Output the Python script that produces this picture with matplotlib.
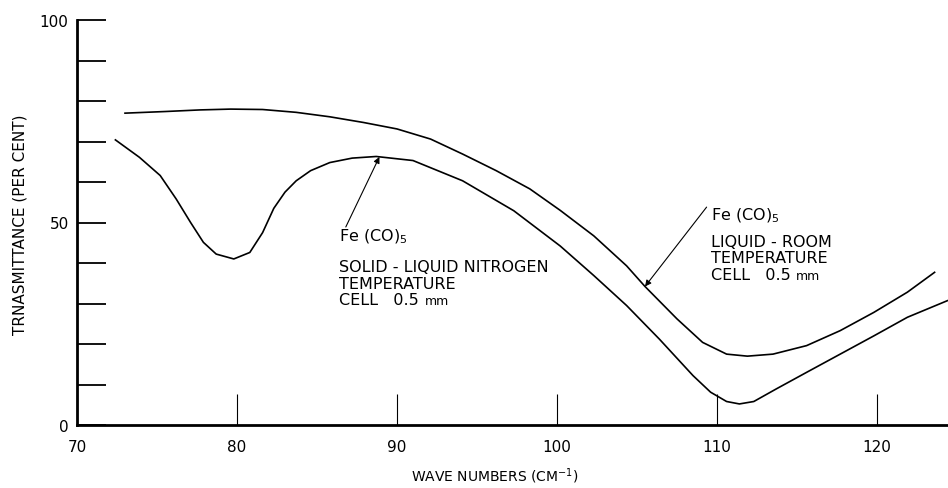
import numpy as np
import matplotlib
matplotlib.use('Agg')
import matplotlib.pyplot as plt

#### data ####

# Fe(CO)5 solid - liquid nitrogen temperature (lower curve)
wn_solid = [72.4, 73.9, 75.2, 76.2, 77.1, 77.9, 78.7, 79.8, 80.8, 81.6, 82.3, 83.0,
            83.7, 84.6, 85.8, 87.2, 88.7, 91.0, 94.1, 97.3, 100.2, 102.3, 104.35,
            106.4, 108.5, 109.6, 110.6, 111.4, 112.3, 113.7, 115.6, 117.7, 119.8,
            121.9, 124.4]
tr_solid = [70.4, 66.1, 61.6, 55.8, 50.0, 45.1, 42.2, 41.0, 42.6, 47.5, 53.5, 57.5,
            60.3, 62.8, 64.8, 65.9, 66.3, 65.3, 60.3, 52.9, 44.2, 36.9, 29.5,
            21.2, 12.2, 8.1, 5.8, 5.2, 5.8, 8.9, 13.0, 17.5, 22.0,
            26.6, 30.7]

# Fe(CO)5 liquid - room temperature (upper curve)
wn_liquid = [73.0, 75.5, 77.7, 79.6, 81.6, 83.7, 85.8, 87.9, 90.0, 92.1, 94.1, 96.2,
             98.3, 100.2, 102.3, 104.35, 105.5, 107.5, 109.1, 110.6, 111.9, 113.5,
             115.6, 117.7, 119.8, 121.9, 123.6]
tr_liquid = [77.0, 77.4, 77.8, 78.0, 77.9, 77.2, 76.1, 74.7, 73.1, 70.6, 66.9, 62.8,
             58.3, 53.0, 46.7, 39.3, 34.2, 26.2, 20.4, 17.5, 17.0, 17.5,
             19.6, 23.3, 27.8, 32.8, 37.7]

x_ticks = [70, 80, 90, 100, 110, 120]
y_ticks = [0, 10, 20, 30, 40, 50, 60, 70, 80, 90, 100]
y_labels = ['0', '', '', '', '', '50', '', '', '', '', '100']

#### figure ####

fig = plt.figure(figsize=(9.48, 4.89), dpi=100, facecolor='w')
ax = fig.add_axes([77 / 948, 63 / 489, 871 / 948, 405 / 489])

ax.plot(wn_solid, tr_solid, color='k', lw=1.2)
ax.plot(wn_liquid, tr_liquid, color='k', lw=1.2)

ax.set_xlim(70, 70 + 871 / 16)
ax.set_ylim(0, 100)

# spines
for side in ['top', 'right']:
    ax.spines[side].set_visible(False)
for side in ['left', 'bottom']:
    ax.spines[side].set_linewidth(2)

# ticks pointing inward, long
ax.set_yticks(y_ticks)
ax.set_yticklabels(y_labels, fontsize=11)
ax.yaxis.set_tick_params(direction='in', length=21, width=1.3, pad=6)
ax.set_xticks(x_ticks)
ax.set_xticklabels([str(v) for v in x_ticks], fontsize=11)
ax.xaxis.set_tick_params(direction='in', length=22, width=0.8, pad=10)

# axis labels
fig.text(495 / 948, 1 - 476 / 489, 'WAVE NUMBERS (CM$^{-1}$)', ha='center', va='center',
         fontsize=10)
fig.text(20 / 948, 1 - 225 / 489, 'TRNASMITTANCE (PER CENT)', ha='center', va='center',
         rotation=90, fontsize=11)

# annotations
txt = dict(fontsize=11.5, ha='left', va='baseline')
ax.text(86.4, 45.7, 'Fe (CO)$_5$', **txt)
ax.text(86.4, 38.0, 'SOLID - LIQUID NITROGEN', **txt)
ax.text(86.4, 33.8, 'TEMPERATURE', **txt)
cell_l = ax.text(86.4, 29.9, 'CELL   0.5', **txt)
ax.annotate('mm', xy=(1, 0), xycoords=cell_l, xytext=(4, 0), textcoords='offset points',
            fontsize=9, ha='left', va='bottom')

ax.text(109.6, 50.9, 'Fe (CO)$_5$', **txt)
ax.text(109.6, 44.2, 'LIQUID - ROOM', **txt)
ax.text(109.6, 40.2, 'TEMPERATURE', **txt)
cell_r = ax.text(109.6, 36.0, 'CELL   0.5', **txt)
ax.annotate('mm', xy=(1, 0), xycoords=cell_r, xytext=(4, 0), textcoords='offset points',
            fontsize=9, ha='left', va='bottom')

arrow = dict(arrowstyle='-|>', color='k', lw=0.8, mutation_scale=9, shrinkA=0, shrinkB=0)
ax.annotate('', xy=(88.9, 66.2), xytext=(86.8, 48.9), arrowprops=arrow)
ax.annotate('', xy=(105.5, 34.2), xytext=(109.35, 53.8), arrowprops=arrow)

plt.savefig('out.png', dpi=100, facecolor='w')
